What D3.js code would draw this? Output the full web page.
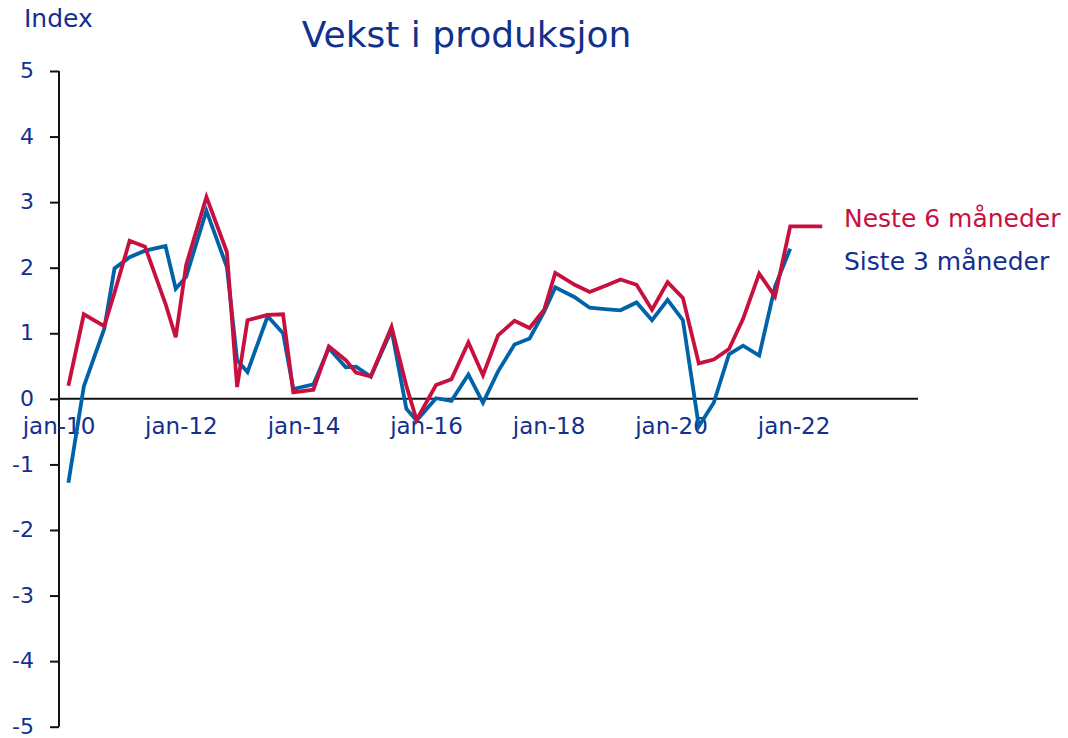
<!DOCTYPE html>
<html>
<head>
<meta charset="utf-8">
<script src="https://cdn.jsdelivr.net/npm/d3@7"></script>
<style>
  html, body { margin: 0; padding: 0; background: #ffffff; }
  svg { display: block; }
  text { font-family: "DejaVu Sans", sans-serif; }
</style>
</head>
<body>
<svg id="chart" width="1068" height="738"></svg>
<script>
// ---- data ----
const dates = [
  "2010-03-01","2010-06-01","2010-10-01","2010-12-01","2011-03-01","2011-06-01",
  "2011-10-01","2011-12-01","2012-02-01","2012-06-01","2012-10-01","2012-12-01",
  "2013-02-01","2013-06-01","2013-09-01","2013-11-01","2014-03-01","2014-06-01",
  "2014-09-10","2014-11-10","2015-02-06","2015-06-10","2015-09-06","2015-11-06",
  "2016-03-01","2016-06-01","2016-09-10","2016-12-06","2017-03-06","2017-06-12",
  "2017-09-10","2017-12-06","2018-02-10","2018-06-06","2018-09-03","2018-12-03",
  "2019-03-06","2019-06-10","2019-09-10","2019-12-12","2020-03-12","2020-06-15",
  "2020-09-12","2020-12-12","2021-03-06","2021-06-10","2021-09-12","2021-12-12",
  "2022-06-21"
];
const nesteValues = [
  0.20, 1.29, 1.11, 1.62, 2.41, 2.32, 1.45, 0.94, 2.04, 3.08, 2.24, 0.18,
  1.20, 1.28, 1.29, 0.10, 0.14, 0.80, 0.59, 0.40, 0.34, 1.10, 0.20, -0.32,
  0.21, 0.30, 0.86, 0.36, 0.97, 1.19, 1.08, 1.36, 1.92, 1.74, 1.63, 1.72,
  1.82, 1.74, 1.36, 1.78, 1.54, 0.54, 0.60, 0.76, 1.22, 1.91, 1.56, 2.63,
  2.63
];
const sisteValues = [
  -1.28, 0.19, 1.07, 1.99, 2.16, 2.26, 2.33, 1.68, 1.86, 2.87, 2.01, 0.59,
  0.41, 1.26, 1.00, 0.15, 0.22, 0.77, 0.48, 0.49, 0.34, 1.05, -0.15, -0.33,
  0.01, -0.03, 0.37, -0.06, 0.42, 0.83, 0.92, 1.33, 1.70, 1.55, 1.39, 1.37,
  1.35, 1.47, 1.20, 1.51, 1.20, -0.42, -0.06, 0.68, 0.81, 0.66, 1.71, 2.29,
  null
];
const yTicks = [-5, -4, -3, -2, -1, 0, 1, 2, 3, 4, 5];
const xTickDates = ["2010-01-01","2012-01-01","2014-01-01","2016-01-01","2018-01-01","2020-01-01","2022-01-01"];
const xDomain = ["2010-01-01", "2024-01-01"];
const seriesNames = ["Neste 6 måneder", "Siste 3 måneder"];
const titleText = "Vekst i produksjon";
const yAxisTitle = "Index";

// ---- styles ----
const navy = "#12308c";
const redCol = "#c8103e";
const blueCol = "#0062a8";

const svg = d3.select("#chart");
const parse = d3.utcParse("%Y-%m-%d");

const x = d3.scaleUtc()
  .domain(xDomain.map(parse))
  .range([58.5, 916]);
const y = d3.scaleLinear()
  .domain([-5, 5])
  .range([726.7, 71]);

const axisX = 59;

// y axis
const yAxis = svg.append("g")
  .attr("transform", `translate(${axisX},0)`)
  .call(d3.axisLeft(y).tickValues(yTicks).tickSize(9).tickPadding(16)
        .tickFormat(d3.format("d")));
yAxis.select(".domain").attr("stroke", "#111").attr("stroke-width", 2)
  .attr("d", `M0,${y(5)}V${y(-5)}`);
yAxis.selectAll(".tick line").attr("stroke", "#111").attr("stroke-width", 2);
yAxis.selectAll(".tick text")
  .attr("fill", navy).attr("font-size", 22)
  .attr("font-family", "DejaVu Sans, sans-serif")
  .attr("dy", "0.3em")
  .text(d => d < 0 ? "-" + Math.abs(d) : d);

// x axis (zero line)
svg.append("line")
  .attr("x1", axisX).attr("x2", x.range()[1] + 2)
  .attr("y1", y(0)).attr("y2", y(0))
  .attr("stroke", "#111").attr("stroke-width", 2);

const xAxis = svg.append("g")
  .attr("transform", `translate(0,${y(0)})`)
  .call(d3.axisBottom(x).tickValues(xTickDates.map(parse)).tickSize(0).tickPadding(19)
        .tickFormat(d => "jan-" + d3.utcFormat("%y")(d)));
xAxis.select(".domain").remove();
xAxis.selectAll(".tick text")
  .attr("fill", navy).attr("font-size", 23)
  .attr("font-family", "DejaVu Sans, sans-serif");

// lines
const line = d3.line()
  .defined(d => d.v !== null)
  .x(d => x(d.date))
  .y(d => y(d.v));

const sisteData = dates.map((d, i) => ({ date: parse(d), v: sisteValues[i] }));
const nesteData = dates.map((d, i) => ({ date: parse(d), v: nesteValues[i] }));

svg.append("path").datum(sisteData)
  .attr("d", line).attr("fill", "none")
  .attr("stroke", blueCol).attr("stroke-width", 3.8)
  .attr("stroke-linejoin", "miter").attr("stroke-miterlimit", 4);
svg.append("path").datum(nesteData)
  .attr("d", line).attr("fill", "none")
  .attr("stroke", redCol).attr("stroke-width", 3.8)
  .attr("stroke-linejoin", "miter").attr("stroke-miterlimit", 4);

// titles
svg.append("text").attr("x", 466.5).attr("y", 47)
  .attr("text-anchor", "middle").attr("font-size", 36)
  .attr("fill", navy).text(titleText);
svg.append("text").attr("x", 24).attr("y", 26.5)
  .attr("font-size", 25).attr("fill", navy).text(yAxisTitle);

// legend labels
svg.append("text").attr("x", 844).attr("y", 226.5)
  .attr("font-size", 25).attr("fill", redCol).text(seriesNames[0]);
svg.append("text").attr("x", 844).attr("y", 269.5)
  .attr("font-size", 25).attr("fill", navy).text(seriesNames[1]);
</script>
</body>
</html>
